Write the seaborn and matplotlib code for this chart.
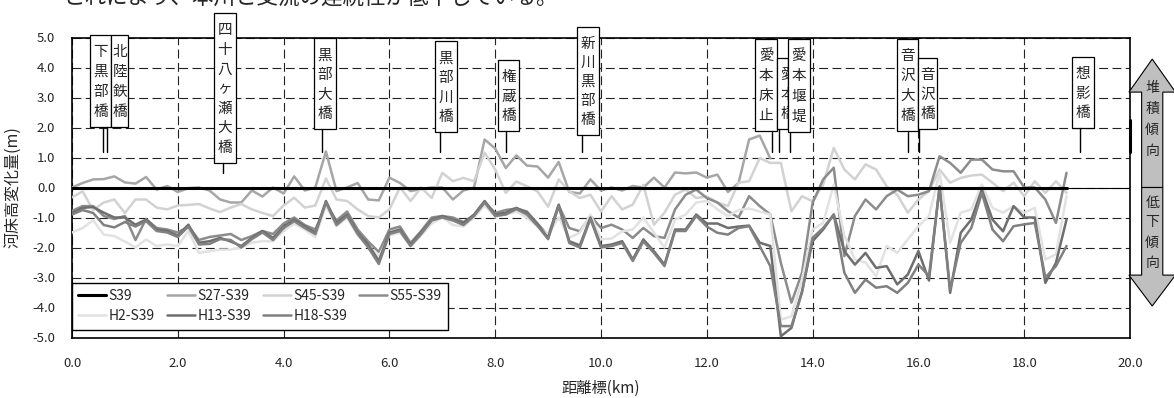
import numpy as np
import pandas as pd
import matplotlib
matplotlib.use('Agg')
import matplotlib.pyplot as plt
from matplotlib.patches import Rectangle, Polygon
from matplotlib.lines import Line2D
import seaborn as sns

# distance markers every 0.2 km
km = np.round(np.arange(95) * 0.2, 1)

s39 = [0.0] * 95

s27 = [0.0, 0.15, 0.27, 0.28, 0.37, 0.17, 0.13, 0.35, -0.07, 0.05,
       -0.15, -0.02, 0.0, -0.1, -0.4, -0.5, -0.5, -0.1, -0.3, 0.0,
       -0.2, 0.37, -0.1, 0.0, 1.2, -0.12, 0.0, 0.15, -0.4, -0.43,
       0.33, 0.15, -0.12, -0.05, 0.0, 0.0, -0.4, -0.1, 0.0, 1.6,
       1.3, 0.65, 1.07, 0.73, 0.7, 0.33, 0.85, -0.15, -0.2, 0.27,
       -0.1, 0.0, -0.1, 0.05, 0.0, 0.33, 0.0, 0.5, 0.47, 0.5,
       0.33, 0.43, -0.15, 0.15, 1.6, 1.73, 0.97]

s45 = [-0.33, -0.13, -0.75, -0.5, -0.4, -0.85, -0.4, -0.4, -0.67, -0.73,
       -0.6, -0.58, -0.55, -0.7, -0.82, -0.67, -0.55, -0.73, -0.85, -0.95,
       -0.6, -0.34, -0.67, -0.6, 0.3, -0.4, -0.45, -0.73, -0.95, -1.0,
       -0.73, 0.0, -0.45, 0.0, -0.35, 0.49, 0.21, 0.32, 0.21, 1.16,
       0.6, -0.18, 0.2, 0.04, -0.13, -0.64, 0.27, -0.13, -0.35, -0.24,
       -0.8, -0.29, -0.73, -0.57, 0.09, -1.24, -0.84, -0.24, -0.07, -0.35,
       -0.3, -0.5, -0.62, 0.16, 0.21, 0.98, 0.82, 0.82, -0.79, -0.29,
       -0.46, 0.1, 1.32, 0.6, 0.27, 0.77, 0.6, 0.04, -0.24, -0.84,
       -0.4, -0.12, 0.6, 0.16, 0.32, 0.4, 0.43, 0.16, -0.12, 0.16,
       -0.29, 0.21, -0.18, 0.21, -0.18]

s55 = [-0.78, -0.62, -0.62, -0.95, -1.05, -0.95, -1.75, -1.05, -1.35, -1.4,
       -1.5, -1.3, -1.75, -1.65, -1.6, -1.55, -1.75, -1.62, -1.45, -1.55,
       -1.2, -1.0, -1.25, -1.4, -0.6, -1.1, -0.8, -1.4, -1.8, -2.15,
       -1.4, -1.3, -1.85, -1.45, -1.0, -0.95, -1.0, -1.15, -0.95, -0.5,
       -0.85, -0.75, -0.7, -0.8, -1.2, -1.6, -0.6, -1.35, -1.46, -0.95,
       -1.35, -1.24, -1.4, -1.68, -1.35, -1.62, -1.68, -0.73, -0.24, -0.07,
       -0.35, -0.5, -0.79, -1.0, -0.29, -0.62, -0.9, -2.51, -3.84, -2.84,
       -0.51, 0.27, 0.66, -2.29, -0.95, -0.4, -0.73, -0.29, -0.07, -0.29,
       -0.24, -0.12, 1.04, 0.82, 0.49, 0.93, 0.93, 0.6, 0.54, 0.54,
       0.0, 0.0, -0.4, -1.18, 0.49]

h2 = [-1.5, -1.35, -1.1, -1.57, -1.62, -1.8, -2.0, -1.73, -1.95, -1.9,
      -1.95, -1.45, -2.18, -2.12, -2.07, -2.07, -2.0, -1.84, -1.79, -1.79,
      -1.45, -1.2, -1.4, -1.65, -0.6, -1.3, -1.0, -1.6, -1.95, -2.3,
      -1.6, -1.5, -1.95, -1.6, -1.2, -1.0, -1.25, -1.3, -1.0, -0.6,
      -0.97, -0.9, -0.8, -1.0, -1.3, -1.57, -1.0, -1.68, -1.5, -0.9,
      -1.73, -1.7, -1.46, -1.4, -1.0, -1.5, -2.0, -1.07, -0.9, -0.5,
      -0.45, -0.73, -0.95, -0.75, -0.7, -0.8, -0.9, -4.4, -4.3, -3.07,
      -1.4, -1.18, 0.1, -1.6, -2.4, -2.5, -2.96, -1.95, -2.18, -1.73,
      -1.29, -0.95, 0.5, -1.84, -0.84, -0.73, 0.1, -0.68, -0.84, -0.62,
      -0.84, -0.68, -2.4, -2.23, -0.29]

h13 = [-0.85, -0.68, -0.65, -0.84, -1.0, -1.0, -1.24, -1.07, -1.4, -1.45,
       -1.6, -1.24, -1.84, -1.79, -1.68, -1.8, -1.95, -1.68, -1.45, -1.68,
       -1.3, -1.07, -1.29, -1.5, -0.45, -1.18, -0.9, -1.5, -1.9, -2.45,
       -1.5, -1.4, -1.9, -1.5, -1.07, -0.95, -1.07, -1.18, -0.9, -0.45,
       -0.9, -0.84, -0.68, -0.84, -1.23, -1.68, -0.57, -1.79, -1.93, -1.0,
       -1.95, -1.9, -1.79, -2.4, -1.73, -2.12, -2.57, -1.4, -1.4, -0.9,
       -1.2, -1.2, -1.35, -1.3, -1.27, -1.84, -1.95, -4.96, -4.68, -3.46,
       -1.79, -1.4, -0.9, -2.12, -2.57, -2.18, -2.68, -2.62, -3.23, -2.9,
       -2.12, -3.1, 0.04, -3.51, -1.51, -1.07, -0.07, -1.07, -1.46, -0.62,
       -1.0, -1.0, -3.18, -2.51, -1.07]

h18 = [-0.9, -0.75, -0.85, -1.25, -1.33, -1.15, -1.3, -1.12, -1.45, -1.5,
       -1.65, -1.3, -1.9, -1.88, -1.72, -1.75, -2.0, -1.72, -1.5, -1.75,
       -1.35, -1.12, -1.35, -1.55, -0.5, -1.25, -0.95, -1.55, -2.0, -2.55,
       -1.55, -1.45, -1.95, -1.55, -1.1, -1.0, -1.1, -1.25, -0.95, -0.5,
       -0.95, -0.9, -0.72, -0.9, -1.28, -1.72, -0.62, -1.85, -2.0, -1.05,
       -2.0, -1.95, -1.85, -2.45, -1.8, -2.18, -2.62, -1.45, -1.45, -0.95,
       -1.3, -1.51, -1.57, -1.35, -1.29, -1.95, -2.62, -4.62, -4.62, -3.5,
       -1.68, -1.35, -0.9, -2.84, -3.51, -3.07, -3.34, -3.29, -3.51, -3.18,
       -2.57, -2.95, 0.0, -3.4, -1.84, -1.35, -0.18, -1.4, -1.79, -1.29,
       -1.23, -1.18, -3.0, -2.62, -1.95]

names = ['S27-S39', 'S45-S39', 'S55-S39', 'H2-S39', 'H13-S39', 'H18-S39']
values = [s27, s45, s55, h2, h13, h18]
palette = {'S27-S39': '#a6a6a6', 'S45-S39': '#d2d2d2', 'S55-S39': '#8c8c8c',
           'H2-S39': '#e2e2e2', 'H13-S39': '#6e6e6e', 'H18-S39': '#808080'}

# bridges along the river (km of leader line, box extent in km / m)
bridge_names = ['下黒部橋', '北陸鉄橋', '四十八ヶ瀬大橋', '黒部大橋', '黒部川橋', '権蔵橋',
                '新川黒部橋', '愛本床止', '愛本橋', '愛本堰堤', '音沢大橋', '音沢橋', '想影橋']
bridge_km = [0.59, 0.66, 2.85, 4.72, 6.96, 8.2, 9.64, 13.23, 13.37, 13.57, 15.8, 16.01, 19.05]
box_left = [0.34, 0.74, 2.68, 4.57, 6.86, 8.05, 9.55, 12.91, 13.33, 13.53, 15.6, 15.99, 18.9]
box_right = [0.74, 1.06, 3.10, 4.99, 7.28, 8.45, 9.96, 13.33, 13.53, 13.95, 15.99, 16.35, 19.32]
box_top = [5.08, 5.08, 5.82, 4.98, 4.88, 4.25, 5.35, 4.95, 4.32, 4.95, 4.95, 4.32, 4.35]
box_bottom = [2.02, 2.02, 0.82, 1.95, 1.85, 1.88, 1.75, 1.88, 1.95, 1.85, 1.88, 1.95, 1.98]
leader_end = [1.2, 1.2, 0.5, 1.2, 1.2, 1.2, 1.2, 1.2, 1.2, 1.2, 1.2, 1.2, 1.2]

df = pd.concat([pd.DataFrame({'km': km[:len(v)], 'dz': v, 'series': n})
                for n, v in zip(names, values)], ignore_index=True)

sns.set_style('white')
plt.rcParams['font.family'] = ['Noto Sans CJK JP', 'DejaVu Sans']

fig = plt.figure(figsize=(11.74, 3.98), dpi=100)
ax = fig.add_axes([72 / 1174, 60.5 / 398, 1058 / 1174, 300 / 398])

sns.lineplot(data=df, x='km', y='dz', hue='series', hue_order=names, palette=palette,
             estimator=None, sort=False, legend=False, linewidth=1.8, ax=ax, zorder=3)
ax.axhline(0, color='black', lw=0.8, zorder=2)
sns.lineplot(x=km, y=s39, color='black', linewidth=2.2, ax=ax, zorder=4)

ax.set_xlim(0, 20)
ax.set_ylim(-5, 5)
ax.set_xticks(np.arange(0, 21, 2))
ax.set_yticks(np.arange(-5, 6, 1))
ax.set_xticklabels([f'{t:.1f}' for t in np.arange(0, 21, 2)], fontsize=9.5)
ax.set_yticklabels([f'{t:.1f}' for t in np.arange(-5, 6, 1)], fontsize=9.5)
ax.tick_params(axis='x', length=0, pad=14)
ax.tick_params(axis='y', length=0, pad=12)
ax.set_xlabel('')
ax.set_ylabel('')
ax.grid(True, color='#222222', lw=0.8, linestyle=(0, (8, 4)))
ax.set_axisbelow(True)
for sp in ax.spines.values():
    sp.set_color('black')
    sp.set_linewidth(1.2)

fig.text(601 / 1174, 1 - 388 / 398, '距離標(km)', fontsize=11, ha='center', va='center')
fig.text(13 / 1174, 1 - 187 / 398, '河床高変化量(m)', fontsize=11.5, rotation=90,
         ha='center', va='center')
fig.text(63 / 1174, 1 - 9 / 398, 'これにより、本川と支流の連続性が低下している。',
         fontsize=15.5, ha='left', va='bottom')

# bridge labels
for i, name in enumerate(bridge_names):
    l, r, t, b = box_left[i], box_right[i], box_top[i], box_bottom[i]
    z = 6 + i * 0.1
    ax.add_patch(Rectangle((l, b), r - l, t - b, facecolor='white', edgecolor='black',
                           lw=0.9, zorder=z, clip_on=False))
    cx = (l + r) / 2 if r - l > 0.3 else l + 0.2
    ys = np.linspace(t - 0.57, b + 0.5, len(name))
    for ch, yy in zip(name, ys):
        ax.text(cx, yy, ch, fontsize=10.5, ha='center', va='center', zorder=z + 0.05,
                clip_on=False)
    ax.plot([bridge_km[i], bridge_km[i]], [b, leader_end[i]], color='black', lw=1,
            zorder=z, clip_on=False)

ax.plot([20, 20], [2.25, 1.18], color='black', lw=2.2, clip_on=False, zorder=6)

# tendency arrows on the right
cx = 20.42
up = Polygon([(cx - 0.2, 0), (cx - 0.2, 3.18), (cx - 0.44, 3.18), (cx, 4.28),
              (cx + 0.44, 3.18), (cx + 0.2, 3.18), (cx + 0.2, 0)], closed=True,
             facecolor='#bfbfbf', edgecolor='black', lw=0.8, clip_on=False, zorder=6)
down = Polygon([(cx - 0.2, 0), (cx - 0.2, -2.92), (cx - 0.44, -2.92), (cx, -3.95),
                (cx + 0.44, -2.92), (cx + 0.2, -2.92), (cx + 0.2, 0)], closed=True,
               facecolor='#bfbfbf', edgecolor='black', lw=0.8, clip_on=False, zorder=6)
ax.add_patch(up)
ax.add_patch(down)
for ch, yy in zip('堆積傾向', [3.32, 2.62, 1.92, 1.22]):
    ax.text(cx, yy, ch, fontsize=10, ha='center', va='center', clip_on=False, zorder=7)
for ch, yy in zip('低下傾向', [-0.52, -1.15, -1.85, -2.52]):
    ax.text(cx, yy, ch, fontsize=10, ha='center', va='center', clip_on=False, zorder=7)

# legend
order = ['S39', 'H2-S39', 'S27-S39', 'H13-S39', 'S45-S39', 'H18-S39', 'S55-S39']
col = dict(palette, S39='black')
handles = [Line2D([], [], color=col[n], lw=2.2 if n == 'S39' else 1.8) for n in order]
leg = ax.legend(handles, order, ncol=4, loc='lower left', bbox_to_anchor=(0, 8 / 300),
                borderaxespad=0, frameon=True, fancybox=False, edgecolor='black',
                framealpha=1, prop={'size': 10}, handlelength=2.0,
                handletextpad=0.2, columnspacing=0.85, borderpad=0.45, labelspacing=0.45)
leg.get_frame().set_linewidth(1.0)
leg.set_zorder(8)

fig.savefig('out.png', dpi=100)
